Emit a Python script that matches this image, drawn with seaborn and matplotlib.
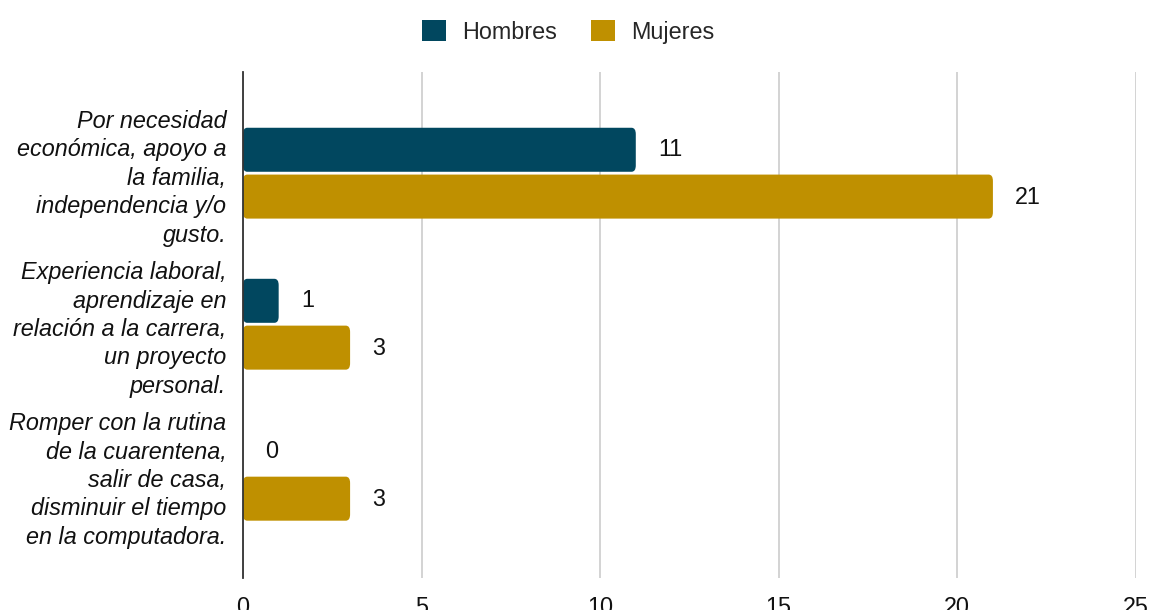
import matplotlib
matplotlib.use("Agg")
import matplotlib.pyplot as plt
import seaborn as sns
import pandas as pd
from matplotlib.patches import FancyBboxPatch

# Motivos para trabajar, por sexo
motivos = [
    "Por necesidad\neconómica, apoyo a\nla familia,\nindependencia y/o\ngusto.",
    "Experiencia laboral,\naprendizaje en\nrelación a la carrera,\nun proyecto\npersonal.",
    "Romper con la rutina\nde la cuarentena,\nsalir de casa,\ndisminuir el tiempo\nen la computadora.",
]
hombres = [11, 1, 0]
mujeres = [21, 3, 3]
series = ["Hombres", "Mujeres"]
colores = {"Hombres": "#01475F", "Mujeres": "#BF9000"}
xticks = [0, 5, 10, 15, 20, 25]

df = pd.DataFrame({
    "motivo": motivos * 2,
    "sexo": [series[0]] * len(motivos) + [series[1]] * len(motivos),
    "valor": hombres + mujeres,
})

sns.set_theme(style="white")
plt.rcParams["font.family"] = ["Liberation Sans", "DejaVu Sans"]

TXT = "#111111"
FS = 16.8

fig = plt.figure(figsize=(11.52, 6.10), dpi=100)
ax = fig.add_axes([0.2109, 0.0525, 0.775, 0.8295])

sns.barplot(data=df, y="motivo", x="valor", hue="sexo", order=motivos,
            hue_order=series, palette=colores, orient="h", width=0.62,
            gap=0.06, ax=ax, legend=False, saturation=1)

# Rounded bar ends
for p in list(ax.patches):
    x0, y0 = p.get_x(), p.get_y()
    w, h = p.get_width(), p.get_height()
    if w <= 0:
        p.remove()
        continue
    fb = FancyBboxPatch((x0, y0), w, h,
                        boxstyle="round,pad=0,rounding_size=0.12",
                        mutation_aspect=0.35,
                        facecolor=p.get_facecolor(), edgecolor="none",
                        zorder=3)
    p.remove()
    ax.add_patch(fb)

# Value labels
for vals, off in ((hombres, -0.16), (mujeres, 0.16)):
    for i, v in enumerate(vals):
        ax.text(v + 0.62, i + off, str(v), va="center", ha="left",
                fontsize=FS, color=TXT)

ax.set_xlim(0, 25)
ax.set_ylim(2.68, -0.67)
ax.set_xticks(xticks)
ax.set_xticklabels([str(t) for t in xticks], fontsize=FS, color=TXT)
ax.tick_params(axis="x", length=0, pad=13)
ax.tick_params(axis="y", length=0, pad=12)
for lbl in ax.get_yticklabels():
    lbl.set_fontstyle("italic")
    lbl.set_fontsize(FS)
    lbl.set_color(TXT)
    lbl.set_linespacing(1.3)
    lbl.set_ha("right")

ax.xaxis.grid(True, color="#CCCCCC", linewidth=1.2, zorder=0)
ax.set_axisbelow(True)
for s in ("top", "right", "bottom"):
    ax.spines[s].set_visible(False)
ax.spines["left"].set_color("#333333")
ax.spines["left"].set_linewidth(1.3)
ax.spines["left"].set_zorder(5)
ax.set_xlabel("")
ax.set_ylabel("")

# Legend
handles = [plt.Rectangle((0, 0), 1, 1, facecolor=colores[s], edgecolor="none")
           for s in series]
fig.legend(handles, series, loc="center", bbox_to_anchor=(0.493, 0.948),
           ncol=2, frameon=False, fontsize=FS, handlelength=1.05,
           handleheight=1.05, handletextpad=0.68, columnspacing=1.45)

fig.savefig("out.png", dpi=100)
